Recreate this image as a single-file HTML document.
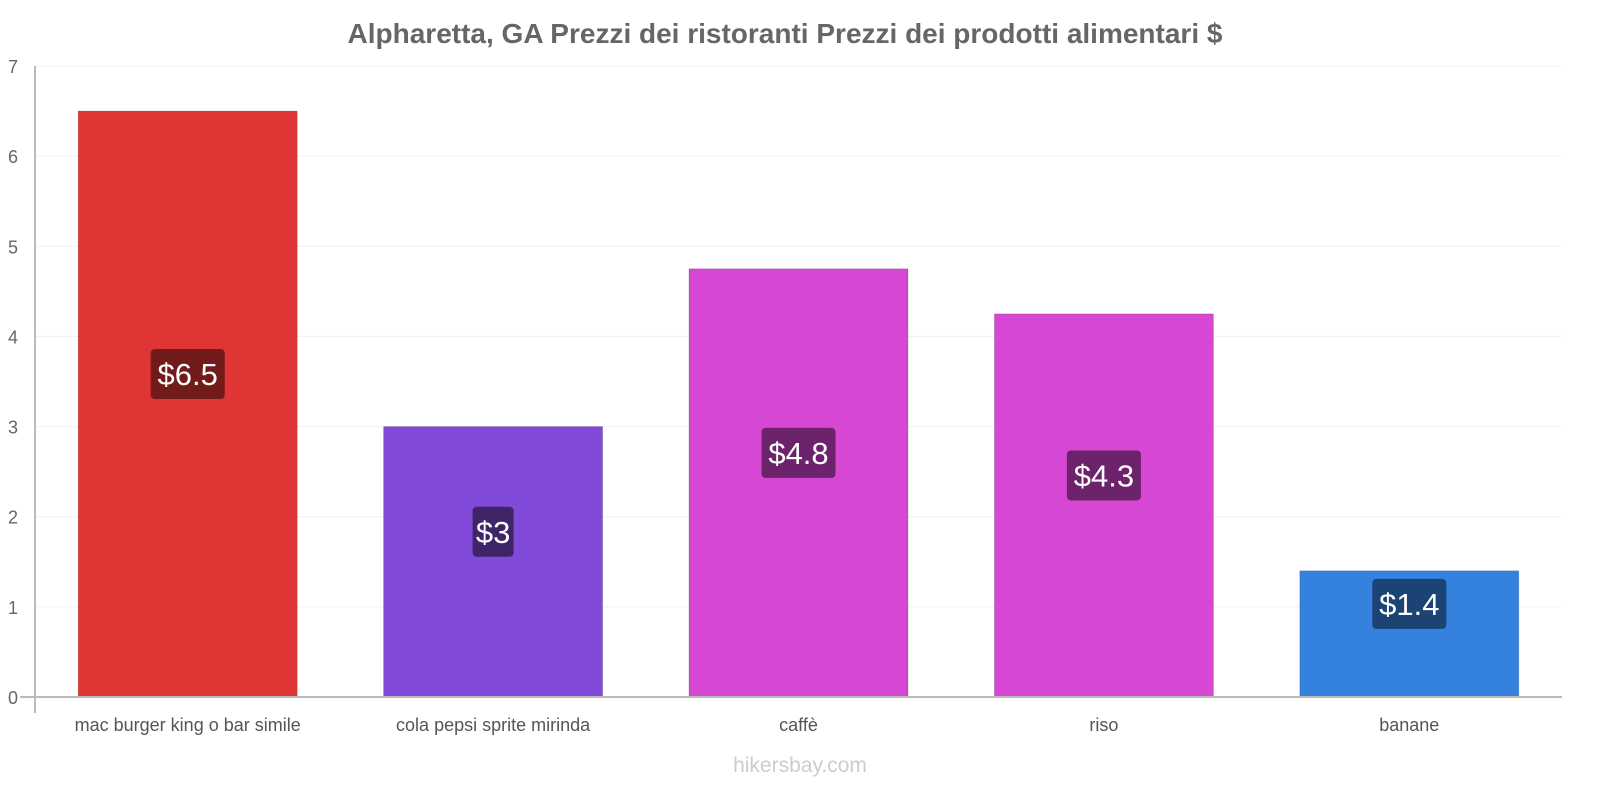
<!DOCTYPE html>
<html><head><meta charset="utf-8"><style>
html,body{margin:0;padding:0;background:#fff;font-family:"Liberation Sans",sans-serif;width:1600px;height:800px;overflow:hidden}
svg{display:block}
</style></head><body>
<svg width="1600" height="800" xmlns="http://www.w3.org/2000/svg">
<text x="785" y="43" text-anchor="middle" font-size="28" font-weight="bold" fill="#666">Alpharetta, GA Prezzi dei ristoranti Prezzi dei prodotti alimentari $</text>
<g id="grid"></g><g id="bars"></g><g id="labels"></g>
<line x1="35" y1="66" x2="35" y2="713" stroke="#bbb" stroke-width="2"/>
<line x1="20" y1="697" x2="1562" y2="697" stroke="#bbb" stroke-width="2"/>
<text x="800" y="772" text-anchor="middle" font-size="21" fill="#ccc">hikersbay.com</text>
</svg>
<script>
const categories=["mac burger king o bar simile","cola pepsi sprite mirinda","caffè","riso","banane"];
const values=[6.5,3,4.75,4.25,1.4];
const valueLabels=["$6.5","$3","$4.8","$4.3","$1.4"];
const ticks=[0,1,2,3,4,5,6,7];
const colors=["#e03535","#814ad9","#d647d3","#d647d3","#3482dd"];
const labelBg=["#711b1b","#3f2568","#6c236b","#6c236b","#1b4474"];
const NS="http://www.w3.org/2000/svg";
const y=v=>697-v*(631/7);
const bw=305.4, x0=35;
const xc=i=>x0+bw*(i+0.5);
function mk(t,a,p){const e=document.createElementNS(NS,t);for(const k in a)e.setAttribute(k,a[k]);p.appendChild(e);return e;}
const g=document.getElementById('grid'),b=document.getElementById('bars'),l=document.getElementById('labels');
ticks.forEach(t=>{
 if(t>0){const gl=mk('line',{x1:35,x2:1562,y1:y(t),y2:y(t),stroke:'#f0f0f0'},g);
 
 }
 const tl=mk('text',{x:18,y:y(t)+7,'text-anchor':'end','font-size':18,fill:'#666'},g);tl.textContent=t;
 
 
});
categories.forEach((c,i)=>{
 const r=mk('rect',{x:xc(i)-109.5,y:y(values[i]),width:219,height:697-y(values[i]),fill:colors[i],stroke:'rgba(0,0,0,0.15)'},b);
 
 
 const cy=(y(values[i])+697)/2-30;
 const w=valueLabels[i].length*16.5+8;
 const bx=mk('rect',{x:xc(i)-w/2,y:cy-25,width:w,height:50,rx:4,fill:labelBg[i]},l);
 
 
 const vt=mk('text',{x:xc(i),y:cy+11,'text-anchor':'middle','font-size':31,fill:'#fff'},l);vt.textContent=valueLabels[i];
 
 
 const ct=mk('text',{x:xc(i),y:731,'text-anchor':'middle','font-size':18,fill:'#555'},l);ct.textContent=c;
 
 
});
</script>
</body></html>
